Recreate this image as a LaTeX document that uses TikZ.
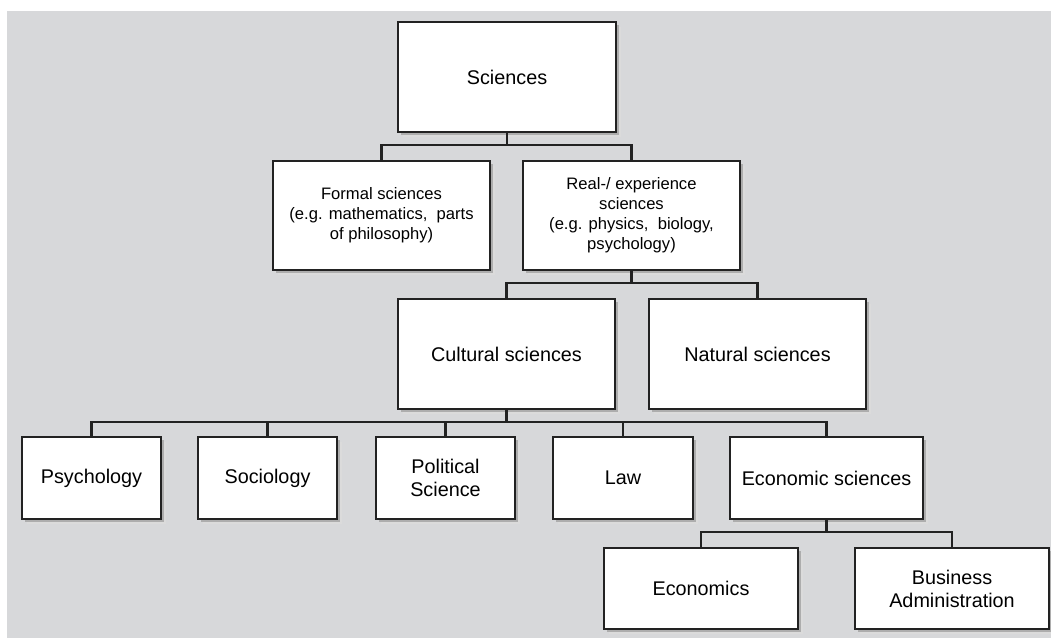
\documentclass[tikz,border=0pt]{standalone}
\usepackage{fontspec}
\setmainfont{Liberation Sans}
\usetikzlibrary{shadows}
\definecolor{panel}{HTML}{D7D8DA}
\definecolor{ink}{HTML}{222222}
\tikzset{
  box/.style={draw=ink, line width=1.4pt, fill=white, inner sep=2pt, align=center,
    general shadow={shadow xshift=5pt, shadow yshift=-5pt, fill=black!14},
    general shadow={shadow xshift=3pt, shadow yshift=-3pt, fill=black!32}},
  big/.style={box, font=\fontsize{19.8pt}{23pt}\selectfont},
  small/.style={box, font=\fontsize{16.6pt}{20pt}\selectfont},
  conn/.style={draw=ink, line width=2.2pt},
}
\begin{document}
\begin{tikzpicture}[x=1pt, y=-1pt]
  \useasboundingbox (0,0) rectangle (1051,638);
  \fill[panel] (7,11) rectangle (1051,638);

  % levels of the tree
  \node[big, minimum width=218pt, minimum height=110pt] (sci) at (507,77) {Sciences};
  \node[small, minimum width=217pt, minimum height=109pt] (formal) at (381.5,215.5)
    {Formal sciences\\(e.g. mathematics,\ \ parts\\of philosophy)};
  \node[small, minimum width=217pt, minimum height=109pt] (real) at (631.5,215.5)
    {Real-/ experience\\sciences\\(e.g. physics,\ \ biology,\\psychology)};
  \node[big, minimum width=217pt, minimum height=110pt] (cult) at (506.5,354) {Cultural sciences};
  \node[big, minimum width=217pt, minimum height=110pt] (nat) at (757.5,354) {Natural sciences};

  \node[big, minimum width=139pt, minimum height=82pt] (psy) at (91.5,478) {Psychology};
  \node[big, minimum width=139pt, minimum height=82pt] (soc) at (267.5,478) {Sociology};
  \node[big, minimum width=139pt, minimum height=82pt] (pol) at (445.5,478) {Political\\Science};
  \node[big, minimum width=140pt, minimum height=82pt] (law) at (623,478) {Law};
  \node[big, minimum width=193pt, minimum height=82pt] (ecs) at (826.5,478) {Economic sciences};

  \node[big, minimum width=194pt, minimum height=81pt] (eco) at (701,588.5) {Economics};
  \node[big, minimum width=194pt, minimum height=81pt] (bus) at (952,588.5) {Business\\Administration};

  % horizontal bus heights
  \coordinate (b1) at (0,145);
  \coordinate (b2) at (0,283);
  \coordinate (b3) at (0,422);
  \coordinate (b4) at (0,532);

  % connectors
  \draw[conn] (sci.south) -- (sci.south |- b1) -| (formal.north);
  \draw[conn] (sci.south |- b1) -| (real.north);
  \draw[conn] (real.south) -- (real.south |- b2) -| (cult.north);
  \draw[conn] (real.south |- b2) -| (nat.north);
  \draw[conn] (cult.south) -- (cult.south |- b3) -| (psy.north);
  \draw[conn] (cult.south |- b3) -| (soc.north);
  \draw[conn] (cult.south |- b3) -| (pol.north);
  \draw[conn] (cult.south |- b3) -| (law.north);
  \draw[conn] (cult.south |- b3) -| (ecs.north);
  \draw[conn] (ecs.south) -- (ecs.south |- b4) -| (eco.north);
  \draw[conn] (ecs.south |- b4) -| (bus.north);
\end{tikzpicture}
\end{document}
